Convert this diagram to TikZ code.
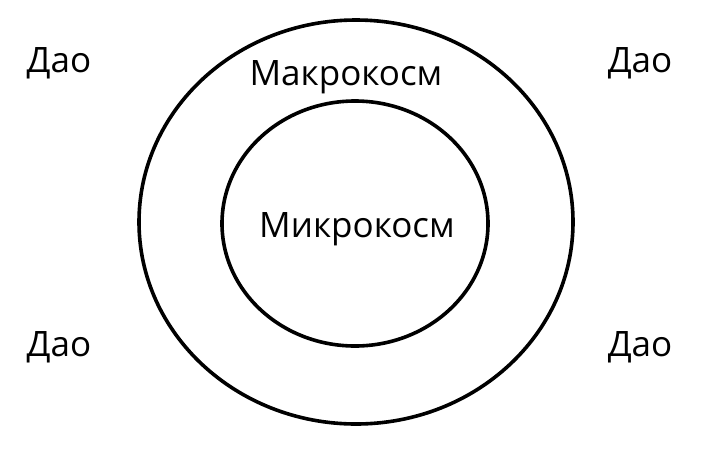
\documentclass[tikz,border=0pt]{standalone}
\usepackage{fontspec}
\setmainfont{Open Sans}
\usetikzlibrary{shapes.geometric}

\tikzstyle{ring}=[
    ellipse,
    draw,
    line width=3.6pt,
    inner sep=0pt,
  ]
\tikzstyle{word}=[
    anchor=base,
    inner sep=0pt,
    font=\fontsize{35}{40}\selectfont,
  ]

\begin{document}
\begin{tikzpicture}[x=1pt, y=-1pt]
      \useasboundingbox (0, 0) rectangle (714, 456);
      \node[ring, minimum width=434pt, minimum height=404pt] (outer) at (356, 222) {};
      \node[ring, minimum width=266pt, minimum height=245pt] (inner) at (355, 223.5) {};
      \node[word] (macro) at (346, 85) {Макрокосм};
      \node[word] (micro) at (357, 237) {Микрокосм};
      \foreach \x/\y [count=\i] in {59/72, 640/72, 59/356, 640/356} {%
        \node[word] (dao\i) at (\x, \y) {Дао};
      }
    \end{tikzpicture}
\end{document}
